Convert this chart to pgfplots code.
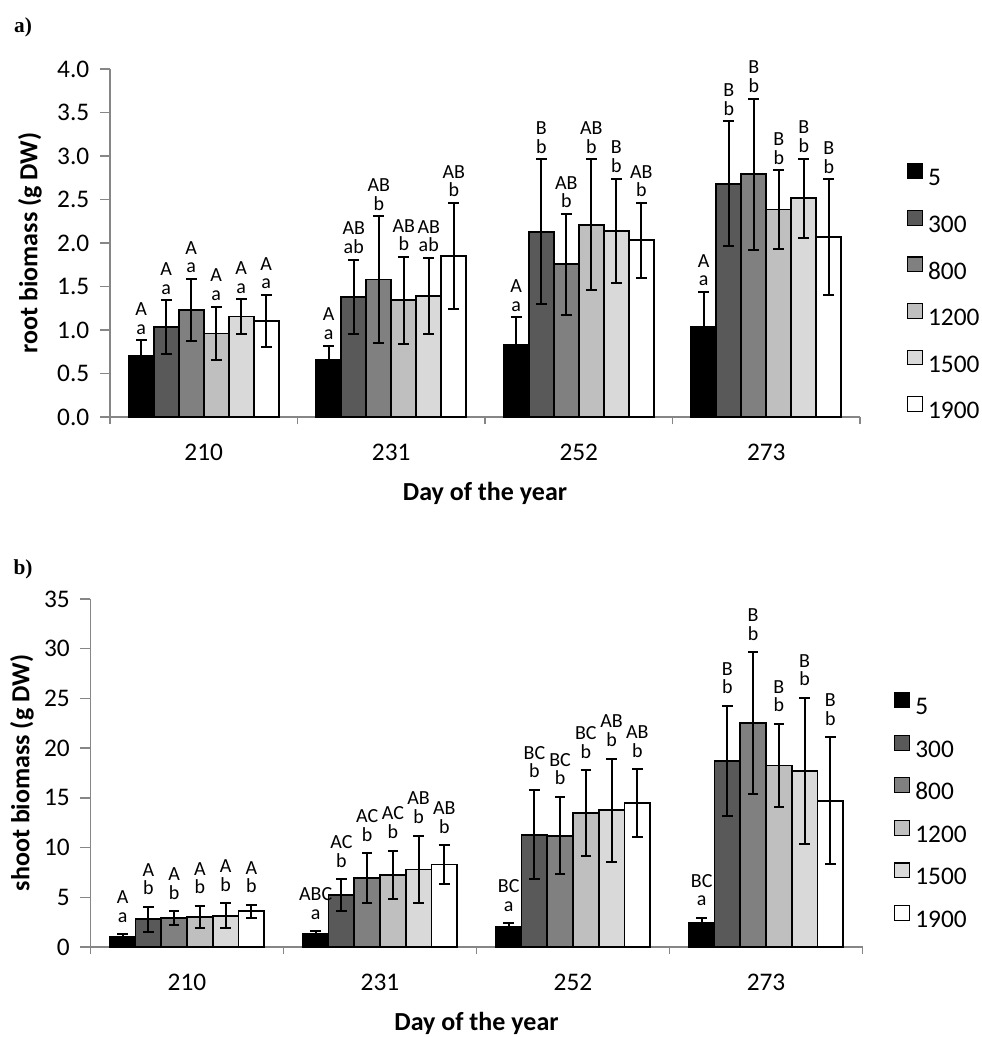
\documentclass[border=0pt]{standalone}
\usepackage{fontspec}
\setmainfont{Carlito}
\newfontfamily\panelfont{Liberation Serif}
\usepackage{pgfplots}
\usepackage{pgfplotstable}
\pgfplotsset{compat=1.18}

\definecolor{c5}{RGB}{0,0,0}
\definecolor{c300}{RGB}{89,89,89}
\definecolor{c800}{RGB}{128,128,128}
\definecolor{c1200}{RGB}{191,191,191}
\definecolor{c1500}{RGB}{217,217,217}
\definecolor{c1900}{RGB}{255,255,255}
\definecolor{axgray}{RGB}{134,134,134}

\newcommand{\ticksize}{\fontsize{19}{22}\selectfont}
\newcommand{\labsize}{\fontsize{19.5}{23}\selectfont}
\newcommand{\letsize}{\fontsize{15}{18}\selectfont}
\newcommand{\legsize}{\fontsize{19}{22}\selectfont}

% root biomass: mean, error, letters (upper = altitude, lower = date)
\pgfplotstableread{
x m e up lo
0 0.70 0.18 A a
1 0.66 0.16 A a
2 0.825 0.32 A a
3 1.03 0.41 A a
}\rootA
\pgfplotstableread{
x m e up lo
0 1.03 0.31 A a
1 1.38 0.43 AB ab
2 2.13 0.83 B b
3 2.68 0.72 B b
}\rootB
\pgfplotstableread{
x m e up lo
0 1.23 0.36 A a
1 1.58 0.73 AB b
2 1.755 0.58 AB b
3 2.79 0.87 B b
}\rootC
\pgfplotstableread{
x m e up lo
0 0.96 0.31 A a
1 1.34 0.50 AB b
2 2.21 0.75 AB b
3 2.385 0.45 B b
}\rootD
\pgfplotstableread{
x m e up lo
0 1.155 0.20 A a
1 1.39 0.44 AB ab
2 2.14 0.60 B b
3 2.515 0.455 B b
}\rootE
\pgfplotstableread{
x m e up lo
0 1.105 0.30 A a
1 1.85 0.61 AB b
2 2.03 0.43 AB b
3 2.07 0.665 B b
}\rootF

% shoot biomass
\pgfplotstableread{
x m e up lo
0 1.0 0.30 A a
1 1.35 0.25 ABC a
2 2.0 0.40 BC a
3 2.4 0.55 BC a
}\shootA
\pgfplotstableread{
x m e up lo
0 2.8 1.25 A b
1 5.2 1.6 AC b
2 11.3 4.5 BC b
3 18.7 5.55 B b
}\shootB
\pgfplotstableread{
x m e up lo
0 2.9 0.7 A b
1 6.95 2.5 AC b
2 11.2 3.9 BC b
3 22.5 7.15 B b
}\shootC
\pgfplotstableread{
x m e up lo
0 3.05 1.1 A b
1 7.25 2.45 AC b
2 13.5 4.3 BC b
3 18.25 4.2 B b
}\shootD
\pgfplotstableread{
x m e up lo
0 3.13 1.25 A b
1 7.8 3.4 AB b
2 13.75 5.2 AB b
3 17.7 7.35 B b
}\shootE
\pgfplotstableread{
x m e up lo
0 3.6 0.65 A b
1 8.3 1.95 AB b
2 14.5 3.4 AB b
3 14.7 6.4 B b
}\shootF

\pgfplotsset{
  common/.style={
    scale only axis, ybar, clip=false,
    xmin=-0.5, xmax=3.5,
    xtick={0,1,2,3}, xticklabels={210,231,252,273},
    minor xtick={-0.5,0.5,1.5,2.5,3.5},
    axis x line=bottom, axis y line=left,
    axis line style={-, draw=axgray, line width=1pt},
    tick align=outside, major tick length=7.5pt, minor tick length=5.5pt,
    every major x tick/.style={draw=none},
    every minor x tick/.style={draw=axgray, line width=1pt},
    every major y tick/.style={draw=axgray, line width=1pt},
    tick label style={font=\ticksize, text=black},
    xticklabel style={yshift=-9.5pt},
    yticklabel style={xshift=-4.5pt},
    /pgf/number format/assume math mode=true,
    xlabel={Day of the year},
    every axis x label/.style={at={(axis description cs:0.5,-0.2184)}, anchor=center, font=\labsize\bfseries},
    bar width=0.13333,
    legend style={draw=none, fill=none, font=\legsize, legend cell align=left,
      column sep=4pt, nodes={inner sep=0pt, text height=11pt, text depth=0pt}},
    legend image code/.code={\draw[#1, line width=0.8pt, draw=black] (0pt,0pt) rectangle (11pt,11pt);},
  },
  bio/.style={fill=#1, draw=black, line width=1.4pt,
    error bars/.cd, y dir=both, y explicit,
    error bar style={line width=1.5pt, black},
    error mark options={rotate=90, line width=1.5pt, mark size=4pt, black}},
}

% one bar series with its error bars and its two letters above the error bar
\newcommand{\series}[4]{% table, colour, shift, letter offset
  \addplot[bar shift=#3, bio=#2] table[x=x, y=m, y error=e] {#1};
  \addplot[draw=none, fill=none, forget plot, bar shift=#3,
    nodes near coords, point meta=explicit symbolic,
    every node near coord/.append style={anchor=base, yshift=#4, font=\letsize, text=black, inner sep=0pt}]
    table[x=x, y expr=\thisrow{m}+\thisrow{e}, meta=lo] {#1};
  \addplot[draw=none, fill=none, forget plot, bar shift=#3,
    nodes near coords, point meta=explicit symbolic,
    every node near coord/.append style={anchor=base, yshift=#4+14pt, font=\letsize, text=black, inner sep=0pt}]
    table[x=x, y expr=\thisrow{m}+\thisrow{e}, meta=up] {#1};
}

\begin{document}
\begin{tikzpicture}
\path[use as bounding box] (0,0) rectangle (735.75pt,-777.75pt);

\node[font=\panelfont\bfseries\fontsize{16}{18}\selectfont] at (17.25pt,-20.25pt) {a)};
\begin{axis}[common,
  at={(82.5pt,-312.75pt)}, anchor=south west,
  width=562.5pt, height=261pt,
  ymin=0, ymax=4, ytick={0,0.5,1,1.5,2,2.5,3,3.5,4},
  yticklabel style={/pgf/number format/.cd, fixed, fixed zerofill, precision=1},
  ylabel={root biomass (g DW)},
  every axis y label/.style={at={(axis description cs:-0.1067,0.5)}, rotate=90, anchor=center, font=\labsize\bfseries},
  legend style={at={(1.057,0.362)}, anchor=west, row sep=18pt},
]
\series{\rootA}{c5}{-0.33333}{4.5pt}
\series{\rootB}{c300}{-0.2}{4.5pt}
\series{\rootC}{c800}{-0.06667}{4.5pt}
\series{\rootD}{c1200}{0.06667}{4.5pt}
\series{\rootE}{c1500}{0.2}{4.5pt}
\series{\rootF}{c1900}{0.33333}{4.5pt}
\legend{5,300,800,1200,1500,1900}
\end{axis}

\node[font=\panelfont\bfseries\fontsize{16}{18}\selectfont] at (17.25pt,-426.75pt) {b)};
\begin{axis}[common,
  at={(67.875pt,-710.25pt)}, anchor=south west,
  width=579pt, height=261pt,
  ymin=0, ymax=35, ytick={0,5,10,15,20,25,30,35},
  ylabel={shoot biomass (g DW)},
  every axis y label/.style={at={(axis description cs:-0.0887,0.5)}, rotate=90, anchor=center, font=\labsize\bfseries},
  legend style={at={(1.0356,0.394)}, anchor=west, row sep=15pt},
]
\series{\shootA}{c5}{-0.33333}{9pt}
\series{\shootB}{c300}{-0.2}{9pt}
\series{\shootC}{c800}{-0.06667}{9pt}
\series{\shootD}{c1200}{0.06667}{9pt}
\series{\shootE}{c1500}{0.2}{9pt}
\series{\shootF}{c1900}{0.33333}{9pt}
\legend{5,300,800,1200,1500,1900}
\end{axis}
\end{tikzpicture}
\end{document}
